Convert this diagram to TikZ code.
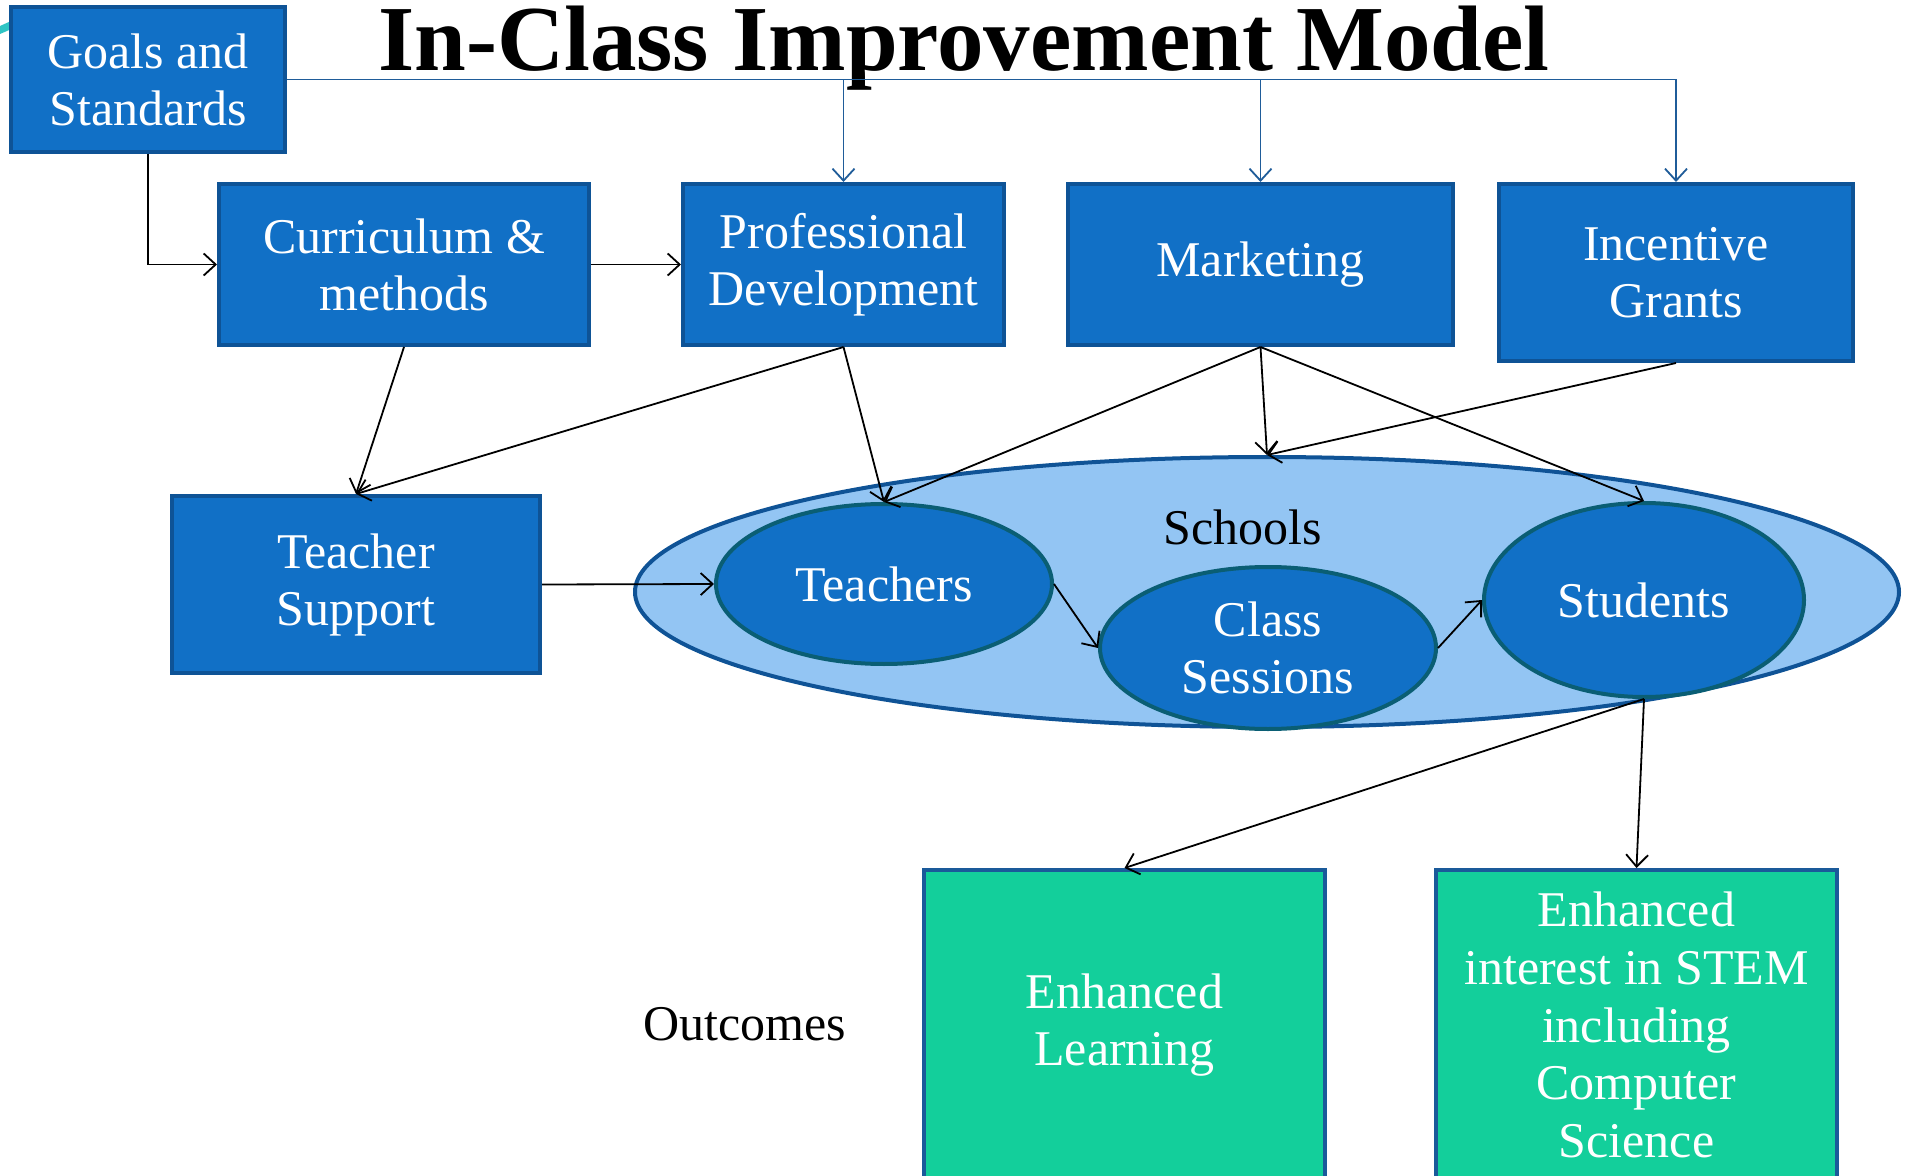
\documentclass[tikz,border=0pt]{standalone}
\usepackage{fontspec}
\setmainfont{Liberation Serif}
\usetikzlibrary{shapes.geometric,arrows.meta,calc}
\definecolor{boxfill}{HTML}{1170C6}
\definecolor{boxdraw}{HTML}{0E5396}
\definecolor{schoolfill}{HTML}{93C5F3}
\definecolor{schooldraw}{HTML}{0F5396}
\definecolor{elldraw}{HTML}{0A5E74}
\definecolor{greenfill}{HTML}{13CF9B}
\definecolor{greendraw}{HTML}{1A5A9A}
\definecolor{blueline}{HTML}{1F5C99}
\definecolor{swoosh}{HTML}{2EC4C4}
\tikzset{
  bluebox/.style={draw=boxdraw, fill=boxfill, line width=2pt, rectangle, inner sep=0pt,
    text=white, align=center, font=\fontsize{25pt}{28.5pt}\selectfont},
  greenbox/.style={draw=greendraw, fill=greenfill, line width=2pt, rectangle, inner sep=0pt,
    text=white, align=center, font=\fontsize{25pt}{28.8pt}\selectfont},
  blueell/.style={draw=elldraw, fill=boxfill, line width=2pt, ellipse, inner sep=0pt,
    text=white, align=center, font=\fontsize{25pt}{28.5pt}\selectfont},
  schoolell/.style={draw=schooldraw, fill=schoolfill, line width=2pt, ellipse, inner sep=0pt},
  plaintext/.style={text=black, font=\fontsize{25pt}{28pt}\selectfont, inner sep=0pt},
  conn/.style={draw=black, line width=0.9pt, -{Straight Barb[length=6pt,width=11pt]}},
  bconn/.style={draw=blueline, line width=0.9pt, -{Straight Barb[length=6pt,width=11pt]}},
  bline/.style={draw=blueline, line width=0.9pt},
}
\begin{document}
\begin{tikzpicture}[x=0.5pt,y=-0.5pt]
\useasboundingbox (0,0) rectangle (1911,1176);
\fill[white] (0,0) rectangle (1911,1176);
\fill[swoosh] (0,34) -- (0,26) -- (40,8) -- (60,8) -- cycle;

% title
\node[font=\fontsize{46.5pt}{50pt}\selectfont\bfseries, anchor=base, inner sep=0pt] (title) at (964,71) {In-Class Improvement Model};

% top boxes
\node[bluebox, minimum width=137pt, minimum height=72.5pt] (goals) at (148,79.5) {Goals and\\Standards};
\node[bluebox, minimum width=185pt, minimum height=80.5pt] (curr) at (404,264.5) {Curriculum \&\\methods};
\node[bluebox, minimum width=160.5pt, minimum height=80.5pt] (prof) at (843.5,264.5) {Professional\\Development};
\node[bluebox, minimum width=192.5pt, minimum height=80.5pt] (mark) at (1260.5,264.5) {Marketing};
\node[bluebox, minimum width=177pt, minimum height=88.5pt] (inc) at (1676,272.5) {Incentive\\Grants};
\node[bluebox, minimum width=184pt, minimum height=88.5pt] (ts) at (356,584.5) {Teacher\\Support};

% schools
\node[schoolell, minimum width=632pt, minimum height=135pt] (schools) at (1267,592) {};
\node[plaintext] (schoolslbl) at (1243,527) {Schools};
\node[blueell, minimum width=168pt, minimum height=80pt] (teachers) at (884,584) {Teachers};
\node[blueell, minimum width=168pt, minimum height=81pt] (class) at (1268,648) {Class\\Sessions};
\node[blueell, minimum width=160pt, minimum height=97pt] (students) at (1644,600) {Students};

% outcomes
\node[plaintext] (outcomes) at (745,1024) {Outcomes};
\node[greenbox, minimum width=200.5pt, minimum height=155pt] (el) at (1124.5,1025) {Enhanced\\Learning};
\node[greenbox, minimum width=200.5pt, minimum height=155pt] (ei) at (1636.5,1025) {Enhanced\\interest in STEM\\including\\Computer\\Science};

% blue connectors from goals
\coordinate (gend) at (inc.north |- goals.east);
\coordinate (gprof) at (prof.north |- goals.east);
\coordinate (gmark) at (mark.north |- goals.east);
\draw[bline] (goals.east) -- (gend);
\draw[bconn] (gprof) -- (prof.north);
\draw[bconn] (gmark) -- (mark.north);
\draw[bconn] (gend) -- (inc.north);

% black connectors
\draw[conn] (goals.south) |- (curr.west);
\draw[conn] (curr.east) -- (prof.west);
\draw[conn] (curr.south) -- (ts.north);
\draw[conn] (prof.south) -- (ts.north);
\draw[conn] (prof.south) -- (teachers.north);
\draw[conn] (mark.south) -- (teachers.north);
\draw[conn] (mark.south) -- (schools.north);
\draw[conn] (mark.south) -- (students.north);
\draw[conn] (inc.south) -- (schools.north);
\draw[conn] (ts.east) -- (teachers.west);
\draw[conn] (teachers.east) -- (class.west);
\draw[conn] (class.east) -- (students.west);
\draw[conn] (students.south) -- (el.north);
\draw[conn] (students.south) -- (ei.north);
\end{tikzpicture}
\end{document}
